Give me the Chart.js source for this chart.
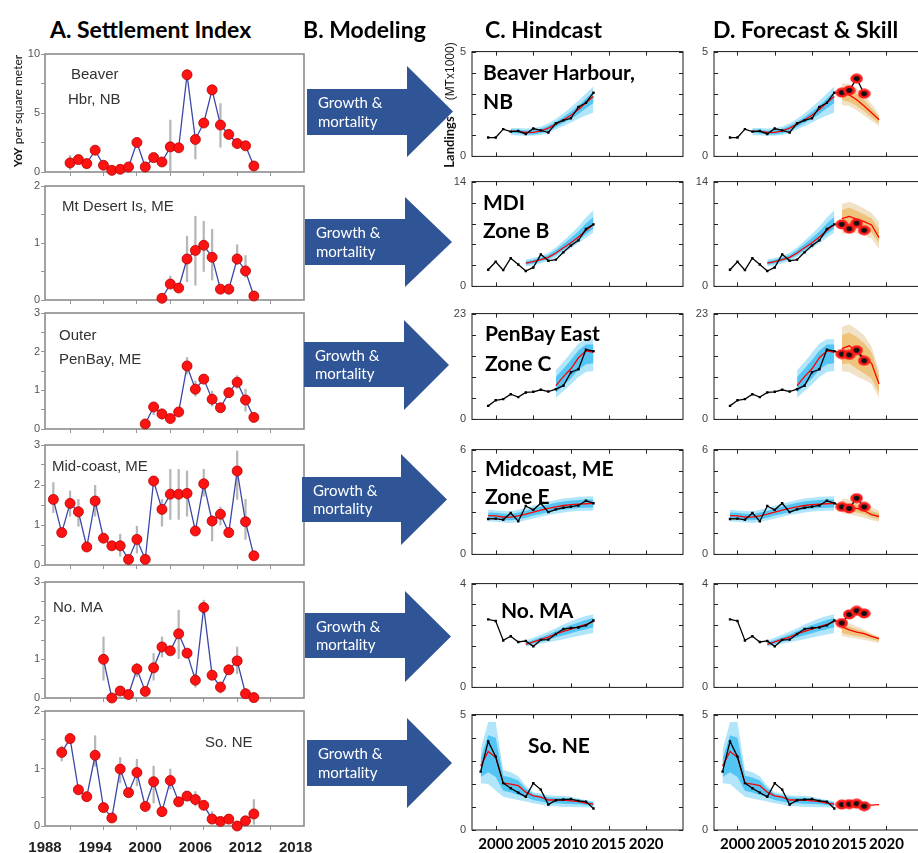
<!DOCTYPE html>
<html lang="en">
<head>
<meta charset="UTF-8" />
<title>Settlement, hindcast and forecast</title>
<script src="https://cdn.jsdelivr.net/npm/chart.js"></script>
<style>
  html, body { margin: 0; padding: 0; background: #fff; overflow: hidden; }
  #fig { position: relative; width: 918px; height: 853px; overflow: hidden; }
  #fig canvas { position: absolute; }
  .t { position: absolute; white-space: nowrap; line-height: 1; }
  .title { font: bold 23px Lato, sans-serif; color: #000; }
  .site { font: 15px "Liberation Sans", Arial, sans-serif; color: #333; }
  .zone { font: bold 21px Lato, sans-serif; color: #000; }
  .arrow { position: absolute; background: #2f5597; }
  .atext { position: absolute; color: #fff; font: 15px Lato, sans-serif; line-height: 18.5px; white-space: nowrap; }
  .rot { position: absolute; white-space: nowrap; transform: translate(-50%, -50%) rotate(-90deg); }
</style>
</head>
<body>
<div id="fig"></div>

<script>
// ---- A. settlement index (YoY per m2) ----
const setYearsBeaver = [1991,1992,1993,1994,1995,1996,1997,1998,1999,2000,2001,2002,2003,2004,2005,2006,2007,2008,2009,2010,2011,2012,2013];
const setBeaver = [0.77,1.05,0.71,1.85,0.57,0.14,0.23,0.43,2.5,0.43,1.22,0.85,2.13,2.05,8.24,2.76,4.15,6.96,3.98,3.18,2.41,2.22,0.51];
const errBeaver = [[1991,0.2,1.4],[2003,0.1,4.4],[2006,1.1,3.0],[2009,2.1,5.8]];

const setYearsMdi = [2002,2003,2004,2005,2006,2007,2008,2009,2010,2011,2012,2013];
const setMdi = [0.03,0.28,0.21,0.72,0.87,0.96,0.75,0.19,0.19,0.72,0.51,0.07];
const errMdi = [[2003,0.22,0.42],[2005,0.32,1.12],[2006,0.26,1.47],[2007,0.5,1.38],[2008,0.35,1.24],[2011,0.62,0.97],[2012,0.4,0.78]];

const setYearsPenBay = [2000,2001,2002,2003,2004,2005,2006,2007,2008,2009,2010,2011,2012,2013];
const setPenBay = [0.13,0.57,0.39,0.27,0.44,1.63,1.03,1.29,0.77,0.55,0.94,1.21,0.75,0.3];
const errPenBay = [[2001,0.37,0.66],[2002,0.25,0.52],[2005,1.42,1.85],[2006,0.85,1.24],[2008,0.59,0.98],[2011,1.05,1.38],[2012,0.46,1.03]];

const setYearsMidcoast = [1989,1990,1991,1992,1993,1994,1995,1996,1997,1998,1999,2000,2001,2002,2003,2004,2005,2006,2007,2008,2009,2010,2011,2012,2013];
const setMidcoast = [1.64,0.81,1.54,1.33,0.45,1.6,0.67,0.48,0.48,0.14,0.64,0.14,2.1,1.39,1.77,1.77,1.79,0.85,2.03,1.1,1.27,0.81,2.35,1.08,0.23];
const errMidcoast = [[1989,1.31,2.06],[1991,1.22,1.85],[1992,0.97,1.64],[1994,1.22,1.99],[1997,0.22,0.77],[1999,0.3,0.97],[2002,0.97,1.64],[2003,1.14,2.39],[2004,1.14,2.39],[2005,1.22,2.35],[2007,1.72,2.39],[2008,0.6,1.1],[2009,1.0,1.45],[2011,1.64,2.85],[2012,0.64,1.64]];

const setYearsNoMa = [1995,1996,1997,1998,1999,2000,2001,2002,2003,2004,2005,2006,2007,2008,2009,2010,2011,2012,2013];
const setNoMa = [1.0,0.0,0.18,0.09,0.75,0.17,0.78,1.32,1.22,1.66,1.16,0.46,2.34,0.59,0.28,0.73,0.96,0.11,0.01];
const errNoMa = [[1995,0.46,1.58],[1999,0.55,0.9],[2001,0.46,1.15],[2002,1.06,1.58],[2004,1.02,2.27],[2006,0.28,0.63],[2007,2.18,2.53],[2009,0.12,0.42],[2011,0.63,1.32],[2012,0.02,0.25]];

const setYearsSoNe = [1990,1991,1992,1993,1994,1995,1996,1997,1998,1999,2000,2001,2002,2003,2004,2005,2006,2007,2008,2009,2010,2011,2012,2013];
const setSoNe = [1.28,1.52,0.63,0.51,1.23,0.32,0.14,0.99,0.58,0.93,0.34,0.77,0.25,0.79,0.42,0.52,0.46,0.36,0.12,0.08,0.12,0.0,0.09,0.21];
const errSoNe = [[1990,1.13,1.39],[1994,1.04,1.57],[1997,0.75,1.19],[1999,0.7,1.16],[2001,0.4,1.04],[2003,0.64,0.99],[2006,0.35,0.6],[2008,0.04,0.25],[2013,0.03,0.46]];

const setTickYears = [1988,1994,2000,2006,2012,2018];

// ---- C/D. landings (MT x 1000): observed, hindcast bands, forecast ----
const obsYears = [1999,2000,2001,2002,2003,2004,2005,2006,2007,2008,2009,2010,2011,2012,2013];
const obsYearsSoNe = [1998,1999,2000,2001,2002,2003,2004,2005,2006,2007,2008,2009,2010,2011,2012,2013];
const skillYears = [2014,2015,2016,2017];
const fcYears = [2014,2015,2016,2017,2018,2019];
const landTickYears = [2000,2005,2010,2015,2020];

const obsBeaver = [0.90,0.90,1.30,1.18,1.21,1.07,1.33,1.24,1.14,1.58,1.72,1.82,2.36,2.56,3.04];
const fitYearsBeaver = [2002,2003,2004,2005,2006,2007,2008,2009,2010,2011,2012,2013];
const fitBeaver = [1.21,1.19,1.14,1.15,1.22,1.35,1.54,1.75,1.96,2.24,2.56,2.86];
const outerBeaver = [[1.02,1.36],[1.0,1.35],[0.98,1.33],[0.98,1.36],[1.02,1.43],[1.12,1.58],[1.28,1.8],[1.45,2.05],[1.62,2.35],[1.8,2.65],[1.95,3.0],[2.1,3.35]];
const innerBeaver = [[1.12,1.28],[1.1,1.27],[1.05,1.24],[1.05,1.26],[1.1,1.32],[1.22,1.46],[1.4,1.65],[1.6,1.88],[1.78,2.14],[2.02,2.42],[2.3,2.76],[2.55,3.1]];
const skillBeaver = [3.04,3.15,3.71,2.99];
const fcBeaver = [3.0,2.93,2.7,2.4,2.08,1.75];
const fcOuterBeaver = [[2.45,3.5],[2.4,3.45],[2.2,3.25],[1.95,2.95],[1.7,2.5],[1.45,2.0]];
const fcInnerBeaver = [[2.7,3.3],[2.6,3.25],[2.4,3.0],[2.15,2.7],[1.85,2.3],[1.58,1.9]];

const obsMdi = [2.22,3.3,2.18,3.77,2.92,2.06,2.53,4.28,3.42,3.58,4.55,5.45,6.15,7.66,8.28];
const fitYearsMdi = [2004,2005,2006,2007,2008,2009,2010,2011,2012,2013];
const fitMdi = [3.11,3.3,3.58,3.88,4.47,5.17,5.83,6.6,7.47,8.28];
const outerMdi = [[2.7,3.6],[2.8,3.8],[3.1,4.1],[3.4,4.5],[3.9,5.2],[4.5,6.1],[5.1,7.0],[5.8,8.0],[6.5,9.2],[7.2,10.2]];
const innerMdi = [[2.9,3.35],[3.05,3.55],[3.35,3.85],[3.65,4.2],[4.2,4.85],[4.85,5.65],[5.5,6.45],[6.2,7.35],[7.0,8.4],[7.75,9.3]];
const skillMdi = [8.28,7.7,8.44,7.5];
const fcMdi = [9.05,9.35,9.0,8.65,8.2,6.5];
const fcOuterMdi = [[7.0,11.0],[7.3,11.3],[7.1,10.9],[6.8,10.4],[6.4,9.8],[5.0,8.6]];
const fcInnerMdi = [[7.9,10.2],[8.2,10.5],[7.9,10.1],[7.6,9.6],[7.2,9.1],[5.8,7.6]];

const obsPenBay = [2.94,4.15,4.4,5.48,4.85,5.86,6.0,6.44,6.06,6.57,7.33,10.26,10.9,15.17,14.84];
const fitYearsPenBay = [2008,2009,2010,2011,2012,2013];
const fitPenBay = [7.33,9.3,11.0,13.4,14.9,14.6];
const outerPenBay = [[4.7,10.7],[6.2,12.5],[7.6,14.5],[9.2,16.5],[10.3,17.4],[10.5,17.4]];
const innerPenBay = [[5.8,9.2],[7.4,11.0],[8.9,12.9],[10.8,15.0],[12.0,16.3],[12.2,16.3]];
const skillPenBay = [14.2,14.02,15.03,12.74];
const fcPenBay = [15.4,16.0,14.7,13.5,12.2,7.7];
const fcOuterPenBay = [[10.4,20.1],[10.3,20.7],[9.3,19.6],[8.6,18.3],[7.7,15.8],[4.65,10.7]];
const fcInnerPenBay = [[12.0,18.3],[12.2,18.9],[11.0,17.9],[10.0,16.6],[8.9,14.6],[5.8,9.6]];

const obsMidcoast = [2.03,2.05,1.98,2.37,1.9,2.77,2.55,2.93,2.42,2.58,2.67,2.73,2.8,3.07,2.93];
const fitYearsMidcoast = [1999,2000,2001,2002,2003,2004,2005,2006,2007,2008,2009,2010,2011,2012,2013];
const fitMidcoast = [2.22,2.2,2.14,2.13,2.2,2.3,2.42,2.53,2.63,2.72,2.8,2.85,2.88,2.9,2.92];
const outerMidcoast = [[1.88,2.55],[1.87,2.52],[1.82,2.48],[1.8,2.47],[1.86,2.55],[1.95,2.65],[2.05,2.78],[2.15,2.9],[2.25,3.02],[2.33,3.12],[2.4,3.2],[2.45,3.25],[2.48,3.3],[2.5,3.32],[2.5,3.33]];
const innerMidcoast = [[2.03,2.4],[2.02,2.38],[1.96,2.33],[1.95,2.32],[2.01,2.4],[2.1,2.5],[2.22,2.62],[2.32,2.74],[2.42,2.85],[2.5,2.95],[2.57,3.03],[2.62,3.08],[2.65,3.12],[2.67,3.14],[2.68,3.15]];
const skillMidcoast = [2.72,2.63,3.22,2.72];
const fcMidcoast = [2.72,2.68,2.63,2.5,2.28,2.17];
const fcOuterMidcoast = [[2.35,3.2],[2.3,3.15],[2.2,3.05],[2.1,2.9],[1.95,2.7],[1.87,2.5]];
const fcInnerMidcoast = [[2.5,2.95],[2.45,2.9],[2.4,2.85],[2.3,2.72],[2.1,2.5],[2.0,2.35]];

const obsNoMa = [2.62,2.56,1.81,1.97,1.75,1.79,1.58,1.83,1.84,2.06,2.25,2.29,2.31,2.39,2.58];
const fitYearsNoMa = [2004,2005,2006,2007,2008,2009,2010,2011,2012,2013];
const fitNoMa = [1.66,1.75,1.85,1.94,2.06,2.16,2.25,2.34,2.43,2.53];
const outerNoMa = [[1.58,1.8],[1.62,1.92],[1.68,2.03],[1.74,2.15],[1.8,2.28],[1.86,2.42],[1.92,2.55],[1.98,2.66],[2.04,2.75],[2.1,2.82]];
const innerNoMa = [[1.62,1.73],[1.68,1.83],[1.76,1.93],[1.84,2.04],[1.93,2.17],[2.01,2.29],[2.09,2.4],[2.17,2.5],[2.24,2.6],[2.32,2.68]];
const skillNoMa = [2.48,2.81,2.95,2.85];
const fcNoMa = [2.34,2.22,2.13,2.07,1.97,1.88];
const fcOuterNoMa = [[1.97,2.58],[1.93,2.47],[1.88,2.35],[1.83,2.22],[1.77,2.08],[1.71,1.95]];
const fcInnerNoMa = [[2.1,2.45],[2.03,2.34],[1.98,2.24],[1.93,2.15],[1.86,2.03],[1.78,1.92]];

const obsSoNe = [2.53,3.84,3.18,2.03,1.81,1.62,1.44,2.03,1.75,1.1,1.29,1.32,1.34,1.26,1.23,0.93];
const fitSoNe = [2.77,3.4,3.15,2.03,1.99,1.92,1.64,1.48,1.42,1.3,1.3,1.29,1.26,1.23,1.16,1.12];
const outerSoNe = [[2.03,3.49],[1.99,4.68],[1.71,4.68],[1.44,2.6],[1.37,2.5],[1.3,2.33],[1.23,1.92],[1.16,1.64],[1.1,1.58],[1.03,1.51],[1.03,1.48],[1.0,1.48],[1.0,1.44],[0.99,1.37],[0.99,1.3],[0.96,1.23]];
const innerSoNe = [[2.3,3.1],[2.5,4.1],[2.3,4.0],[1.7,2.35],[1.62,2.28],[1.52,2.15],[1.42,1.8],[1.3,1.56],[1.24,1.5],[1.16,1.42],[1.16,1.4],[1.14,1.4],[1.13,1.37],[1.12,1.32],[1.08,1.26],[1.04,1.2]];
const skillSoNe = [1.1,1.12,1.14,1.03];
const fcSoNe = [1.1,1.1,1.12,1.1,1.08,1.1];

Chart.defaults.font.family = "'Liberation Sans', Arial, sans-serif";
Chart.defaults.animation = false;
Chart.defaults.events = [];
Chart.defaults.plugins.legend.display = false;
Chart.defaults.plugins.tooltip.enabled = false;

const fig = document.getElementById('fig');

function makeCanvas(box, pad) {
  const c = document.createElement('canvas');
  const w = box.r - box.l + pad.l + pad.r, h = box.b - box.t + pad.t + pad.b;
  c.width = w; c.height = h;
  c.style.left = (box.l - pad.l) + 'px';
  c.style.top = (box.t - pad.t) + 'px';
  c.style.width = w + 'px';
  c.style.height = h + 'px';
  fig.appendChild(c);
  return c;
}

function addText(html, x, yc, cls, size) {
  const d = document.createElement('div');
  d.className = 't ' + cls;
  d.innerHTML = html;
  d.style.left = x + 'px';
  d.style.top = (yc - size / 2) + 'px';
  fig.appendChild(d);
}

// box around the plot area
const framePlugin = {
  id: 'frame',
  beforeDatasetsDraw(chart, args, opts) {
    const a = chart.chartArea, c = chart.ctx;
    c.save();
    c.strokeStyle = opts.color;
    c.lineWidth = opts.width;
    c.strokeRect(a.left, a.top, a.right - a.left, a.bottom - a.top);
    c.restore();
  }
};

// tick marks pointing into the plot, on all four sides
const innerTicks = {
  id: 'innerTicks',
  afterDatasetsDraw(chart, args, opts) {
    const { ctx, chartArea: a, scales: { x, y } } = chart;
    const n = opts.len;
    ctx.save();
    ctx.strokeStyle = '#222';
    ctx.lineWidth = 1;
    ctx.beginPath();
    x.ticks.forEach(t => {
      const p = Math.round(x.getPixelForValue(t.value)) + 0.5;
      ctx.moveTo(p, a.bottom); ctx.lineTo(p, a.bottom - n);
      ctx.moveTo(p, a.top); ctx.lineTo(p, a.top + n);
    });
    y.ticks.forEach(t => {
      const p = Math.round(y.getPixelForValue(t.value)) + 0.5;
      ctx.moveTo(a.left, p); ctx.lineTo(a.left + n, p);
      ctx.moveTo(a.right, p); ctx.lineTo(a.right - n, p);
    });
    ctx.stroke();
    ctx.restore();
  }
};

const pts = (xs, ys) => xs.map((x, i) => ({ x, y: ys[i] }));

function settlementPanel(box, yMax, yStep, labelStep, years, vals, errs, showYears) {
  const pad = { l: 30, t: 8, r: 18, b: showYears ? 30 : 8 };
  new Chart(makeCanvas(box, pad), {
    type: 'line',
    data: {
      datasets: [
        {
          type: 'line', data: pts(years, vals), order: 1, clip: false,
          borderColor: '#3b47a8', borderWidth: 1.3, tension: 0,
          pointRadius: 5, pointBackgroundColor: '#ff1212', pointBorderColor: '#b30000', pointBorderWidth: 0.8
        },
        {
          type: 'bar', order: 3, barThickness: 1.6,
          data: errs.map(e => ({ x: e[0], y: [e[1], e[2]] })),
          backgroundColor: 'rgba(170,170,170,0.85)'
        }
      ]
    },
    options: {
      responsive: false,
      layout: { padding: { left: 0, top: pad.t, right: pad.r, bottom: 0 } },
      scales: {
        x: {
          type: 'linear', min: 1988, max: 2019, offset: false,
          afterFit: s => { s.height = pad.b; },
          border: { display: false },
          grid: {
            drawOnChartArea: false, tickLength: 4,
            color: c => (c.tick && (c.tick.value - 1988) % 4 === 0) ? '#999' : 'rgba(0,0,0,0)'
          },
          ticks: {
            stepSize: 2, includeBounds: false, autoSkip: false, maxRotation: 0, padding: 9,
            color: '#222', font: { size: 15, weight: 'bold' },
            callback: v => (showYears && setTickYears.includes(v)) ? String(v) : ''
          }
        },
        y: {
          min: 0, max: yMax,
          afterFit: s => { s.width = pad.l; },
          border: { display: false },
          grid: { drawOnChartArea: false, tickLength: 4, color: '#999' },
          ticks: {
            stepSize: yStep, autoSkip: false, padding: 1, color: '#555', font: { size: 11 },
            callback: v => (Math.abs(v / labelStep - Math.round(v / labelStep)) < 1e-6) ? String(v) : ''
          }
        }
      },
      plugins: { frame: { color: '#8c8c8c', width: 1.6 } }
    },
    plugins: [framePlugin]
  });
}

const BLUE_OUT = 'rgba(100,205,245,0.5)';
const BLUE_IN = 'rgba(20,175,240,0.6)';
const ORANGE_OUT = 'rgba(225,190,130,0.45)';
const ORANGE_IN = 'rgba(235,165,50,0.5)';

function band(years, pairs, color, order) {
  return [
    { data: pts(years, pairs.map(p => p[0])), borderColor: 'rgba(0,0,0,0)', borderWidth: 0, pointRadius: 0, fill: false, order },
    { data: pts(years, pairs.map(p => p[1])), borderColor: 'rgba(0,0,0,0)', borderWidth: 0, pointRadius: 0, fill: '-1', backgroundColor: color, order }
  ];
}

// red ellipse with a dark centre, used for the skill points
function skillMarker() {
  const c = document.createElement('canvas');
  c.width = 13; c.height = 11;
  const g = c.getContext('2d');
  g.fillStyle = '#ff1a1a';
  g.beginPath(); g.ellipse(6.5, 5.5, 6.2, 5, 0, 0, Math.PI * 2); g.fill();
  g.fillStyle = '#111';
  g.beginPath(); g.ellipse(6.5, 5.5, 3, 2.4, 0, 0, Math.PI * 2); g.fill();
  return c;
}
const marker = skillMarker();

function landingsPanel(box, yMax, s, forecast, showYears) {
  const pad = { l: 26, t: 6, r: 6, b: showYears ? 24 : 4 };
  const ds = [];
  ds.push(...band(s.fitYears, s.outer, BLUE_OUT, 9), ...band(s.fitYears, s.inner, BLUE_IN, 8));
  if (forecast && s.fcOuter) {
    ds.push(...band(fcYears, s.fcOuter, ORANGE_OUT, 7), ...band(fcYears, s.fcInner, ORANGE_IN, 6));
  }
  ds.push({ data: pts(s.fitYears, s.fit), borderColor: '#ff0000', borderWidth: 1.3, pointRadius: 0, fill: false, order: 4 });
  if (forecast) {
    ds.push({ data: pts(fcYears, s.fc), borderColor: '#ff0000', borderWidth: 1.3, pointRadius: 0, fill: false, order: 4 });
  }
  const bx = forecast && s.link ? s.years.concat(skillYears) : s.years;
  const by = forecast && s.link ? s.obs.concat(s.skill) : s.obs;
  ds.push({
    data: pts(bx, by), borderColor: '#000', borderWidth: 1.3, fill: false, order: 2,
    pointStyle: 'rect', pointRadius: 1.7, pointBackgroundColor: '#000', pointBorderWidth: 0
  });
  if (forecast) {
    ds.push({ data: pts(skillYears, s.skill), showLine: false, fill: false, order: 0, pointStyle: marker, pointRadius: 6 });
  }
  new Chart(makeCanvas(box, pad), {
    type: 'line',
    data: { datasets: ds },
    options: {
      responsive: false,
      layout: { padding: { left: 0, top: pad.t, right: pad.r, bottom: 0 } },
      scales: {
        x: {
          type: 'linear', min: 1996.85, max: 2024.9,
          afterFit: sc => { sc.height = pad.b; },
          border: { display: false },
          grid: { display: false, drawTicks: false },
          ticks: {
            stepSize: 5, includeBounds: false, autoSkip: false, maxRotation: 0, padding: 5,
            color: '#000', font: { family: 'Lato', size: 15, weight: 'bold' },
            callback: v => (showYears && landTickYears.includes(v)) ? String(v) : ''
          }
        },
        y: {
          min: 0, max: yMax,
          afterFit: sc => { sc.width = pad.l; },
          border: { display: false },
          grid: { display: false, drawTicks: false },
          ticks: {
            count: 6, autoSkip: false, padding: 6, color: '#444', font: { size: 11 },
            callback: (v, i, arr) => (i === 0 || i === arr.length - 1) ? String(Math.round(v)) : ''
          }
        }
      },
      plugins: { frame: { color: '#1a1a1a', width: 1 }, innerTicks: { len: 4 } }
    },
    plugins: [framePlugin, innerTicks]
  });
}

// ---- column A ----
settlementPanel({ l: 45, t: 54, r: 304, b: 172 }, 10, 2.5, 5, setYearsBeaver, setBeaver, errBeaver, false);
settlementPanel({ l: 45, t: 186, r: 304, b: 300 }, 2, 0.5, 1, setYearsMdi, setMdi, errMdi, false);
settlementPanel({ l: 45, t: 313, r: 304, b: 429 }, 3, 0.5, 1, setYearsPenBay, setPenBay, errPenBay, false);
settlementPanel({ l: 45, t: 445, r: 304, b: 565 }, 3, 0.5, 1, setYearsMidcoast, setMidcoast, errMidcoast, false);
settlementPanel({ l: 45, t: 582, r: 304, b: 698 }, 3, 0.5, 1, setYearsNoMa, setNoMa, errNoMa, false);
settlementPanel({ l: 45, t: 711, r: 304, b: 826 }, 2, 0.5, 1, setYearsSoNe, setSoNe, errSoNe, true);

// ---- columns C and D ----
const sites = [
  { t: 45, b: 165, max: 5, years: obsYears, obs: obsBeaver, fitYears: fitYearsBeaver, fit: fitBeaver, outer: outerBeaver, inner: innerBeaver,
    skill: skillBeaver, fc: fcBeaver, fcOuter: fcOuterBeaver, fcInner: fcInnerBeaver, link: true },
  { t: 175, b: 295, max: 14, years: obsYears, obs: obsMdi, fitYears: fitYearsMdi, fit: fitMdi, outer: outerMdi, inner: innerMdi,
    skill: skillMdi, fc: fcMdi, fcOuter: fcOuterMdi, fcInner: fcInnerMdi, link: true },
  { t: 307, b: 428, max: 23, years: obsYears, obs: obsPenBay, fitYears: fitYearsPenBay, fit: fitPenBay, outer: outerPenBay, inner: innerPenBay,
    skill: skillPenBay, fc: fcPenBay, fcOuter: fcOuterPenBay, fcInner: fcInnerPenBay, link: true },
  { t: 443, b: 563, max: 6, years: obsYears, obs: obsMidcoast, fitYears: fitYearsMidcoast, fit: fitMidcoast, outer: outerMidcoast, inner: innerMidcoast,
    skill: skillMidcoast, fc: fcMidcoast, fcOuter: fcOuterMidcoast, fcInner: fcInnerMidcoast, link: true },
  { t: 577, b: 696, max: 4, years: obsYears, obs: obsNoMa, fitYears: fitYearsNoMa, fit: fitNoMa, outer: outerNoMa, inner: innerNoMa,
    skill: skillNoMa, fc: fcNoMa, fcOuter: fcOuterNoMa, fcInner: fcInnerNoMa, link: true },
  { t: 708, b: 830, max: 5, years: obsYearsSoNe, obs: obsSoNe, fitYears: obsYearsSoNe, fit: fitSoNe, outer: outerSoNe, inner: innerSoNe,
    skill: skillSoNe, fc: fcSoNe, fcOuter: null, fcInner: null, link: false }
];
sites.forEach((s, i) => {
  const last = i === sites.length - 1;
  landingsPanel({ l: 472, r: 683, t: s.t, b: s.b }, s.max, s, false, last);
  landingsPanel({ l: 714, r: 924, t: s.t, b: s.b }, s.max, s, true, last);
});

// ---- B. arrows ----
const arrows = [
  [307, 89, 135, 66, 157, 407, 453],
  [305, 219, 265, 197, 287, 405, 452],
  [304, 342, 387, 320, 410, 404, 449],
  [302, 477, 522, 454, 545, 401, 447],
  [305, 613, 658, 591, 682, 405, 451],
  [307, 740, 786, 718, 808, 407, 452]
];
arrows.forEach(([x0, s0, s1, h0, h1, hx, tip]) => {
  const d = document.createElement('div');
  d.className = 'arrow';
  d.style.left = x0 + 'px';
  d.style.top = h0 + 'px';
  d.style.width = (tip - x0) + 'px';
  d.style.height = (h1 - h0) + 'px';
  const a = s0 - h0, b = s1 - h0, k = hx - x0;
  d.style.clipPath = `polygon(0 ${a}px, ${k}px ${a}px, ${k}px 0, 100% 50%, ${k}px 100%, ${k}px ${b}px, 0 ${b}px)`;
  fig.appendChild(d);
  const t = document.createElement('div');
  t.className = 'atext';
  t.innerHTML = 'Growth &amp;<br>mortality';
  t.style.left = (x0 + 11) + 'px';
  t.style.top = ((s0 + s1) / 2 - 19) + 'px';
  fig.appendChild(t);
});

// ---- titles and labels ----
addText('A. Settlement Index', 50, 26, 'title', 23);
addText('B. Modeling', 303, 26, 'title', 23);
addText('C. Hindcast', 485, 26, 'title', 23);
addText('D. Forecast &amp; Skill', 713, 26, 'title', 23);

addText('Beaver', 71, 72, 'site', 15);
addText('Hbr, NB', 68, 97, 'site', 15);
addText('Mt Desert Is, ME', 62, 204, 'site', 15);
addText('Outer', 59, 333, 'site', 15);
addText('PenBay, ME', 59, 357, 'site', 15);
addText('Mid-coast, ME', 52, 464, 'site', 15);
addText('No. MA', 53, 605, 'site', 15);
addText('So. NE', 205, 740, 'site', 15);

addText('Beaver Harbour,', 483, 69, 'zone', 21);
addText('NB', 483, 98, 'zone', 21);
addText('MDI', 483, 199, 'zone', 21);
addText('Zone B', 483, 227, 'zone', 21);
addText('PenBay East', 485, 330, 'zone', 21);
addText('Zone C', 485, 360, 'zone', 21);
addText('Midcoast, ME', 485, 465, 'zone', 21);
addText('Zone E', 485, 493, 'zone', 21);
addText('No. MA', 501, 607, 'zone', 21);
addText('So. NE', 528, 742, 'zone', 21);

const ya = document.createElement('div');
ya.className = 'rot';
ya.style.cssText += 'left:17px;top:111px;font:12px Lato,sans-serif;color:#111;';
ya.innerHTML = '<b>YoY</b> per square meter';
fig.appendChild(ya);

const yc = document.createElement('div');
yc.className = 'rot';
yc.style.cssText += 'left:449px;top:105px;color:#111;';
yc.innerHTML = '<span style="font:bold 13px Lato,sans-serif">Landings</span>' +
  '<span style="display:inline-block;width:16px"></span>' +
  '<span style="font:12px \'Liberation Sans\',Arial,sans-serif">(MTx1000)</span>';
fig.appendChild(yc);
</script>
</body>
</html>
